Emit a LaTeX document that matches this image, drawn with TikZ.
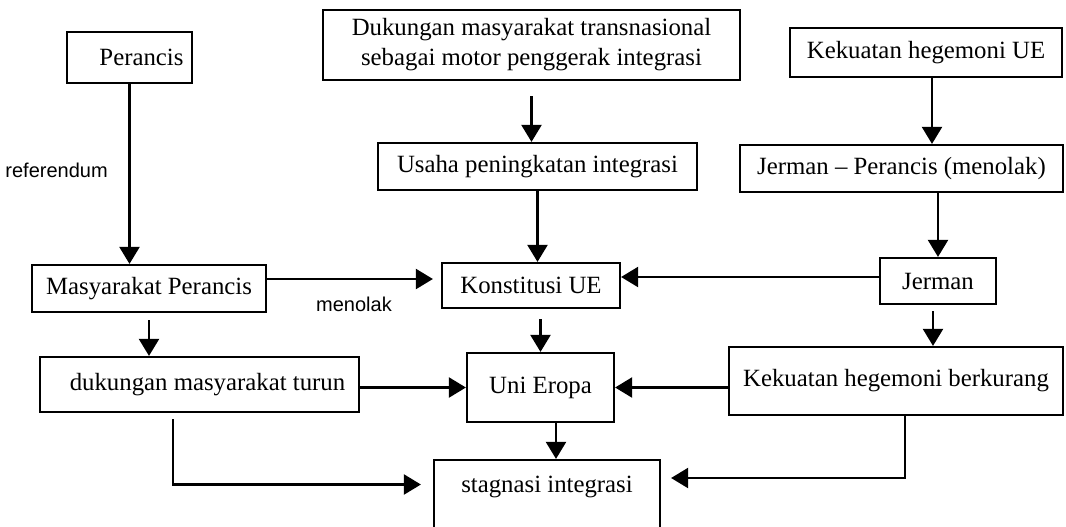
\documentclass[tikz,border=0pt]{standalone}
\usepackage{fontspec}
\setmainfont{Liberation Serif}
\newfontfamily\lsans{Liberation Sans}
\usetikzlibrary{arrows.meta}
\begin{document}
\begin{tikzpicture}[x=0.5pt,y=-0.5pt,
  box/.style={draw, line width=1.1pt, inner sep=0pt, font=\fontsize{12.4}{15}\selectfont, align=center},
  arr/.style={line width=1.1pt, -{Triangle[length=8.5pt,width=10pt]}},
  lbl/.style={font=\lsans\fontsize{10}{12}\selectfont}]
\useasboundingbox (0,0) rectangle (1066,526);
\clip (0,0) rectangle (1066,526);
% boxes
\node[box, minimum width=62.5pt, minimum height=25.5pt] (per) at (129.5,57.5) {\hspace*{12pt}Perancis};
\node[box, minimum width=208.5pt, minimum height=35pt] (dk) at (531.5,45) {Dukungan masyarakat transnasional\\sebagai motor penggerak integrasi};
\node[box, minimum width=136pt, minimum height=24.5pt] (keu) at (926,52.5) {Kekuatan hegemoni UE};
\node[box, minimum width=159.5pt, minimum height=23.5pt] (usaha) at (537.5,166.5) {Usaha peningkatan integrasi};
\node[box, minimum width=161.5pt, minimum height=23.5pt] (jp) at (901.5,168.5) {Jerman -- Perancis (menolak)};
\node[box, minimum width=117pt, minimum height=23.5pt] (mp) at (149,288.5) {Masyarakat Perancis};
\node[box, minimum width=89pt, minimum height=22.5pt] (kon) at (531,285.5) {Konstitusi UE};
\node[box, minimum width=58pt, minimum height=23pt] (jer) at (938,281) {Jerman};
\node[box, minimum width=159.5pt, minimum height=27.5pt] (dmt) at (199.5,384.5) {\hspace*{8pt}dukungan masyarakat turun};
\node[box, minimum width=73.5pt, minimum height=34.5pt] (ue) at (540.5,387.5) {Uni Eropa};
\node[box, minimum width=167pt, minimum height=34pt] (kb) at (896,381) {Kekuatan hegemoni berkurang};
\node[box, minimum width=113pt, minimum height=42.5pt, text depth=18pt] (st) at (547,502.5) {stagnasi integrasi};
% connectors
\draw[arr] (per.south) -- node[lbl, pos=0.48, left=7pt] {referendum} (per.south |- mp.north);
\draw[arr, shorten <=7.5pt] (dk.south) -- (dk.south |- usaha.north);
\draw[arr] (usaha.south) -- (usaha.south |- kon.north);
\draw[arr] ([xshift=3pt]keu.south) -- ([xshift=3pt]keu.south |- jp.north);
\draw[arr] (jer.north |- jp.south) -- (jer.north);
\draw[arr] ([yshift=2pt]jer.west) -- ([yshift=2pt]jer.west -| kon.east);
\draw[arr, shorten >=4pt] ([yshift=4.75pt]mp.east) -- node[lbl, midway, below=5pt] {menolak} ([yshift=4.75pt]mp.east -| kon.west);
\draw[arr, shorten <=5pt] (ue.north |- kon.south) -- (ue.north);
\draw[arr, shorten <=3.5pt] (mp.south) -- (mp.south |- dmt.north);
\draw[arr] (dmt.east |- ue.west) -- (ue.west);
\draw[arr] (kb.west |- ue.east) -- (ue.east);
\draw[arr, shorten <=3pt] ([xshift=-2.5pt]jer.south) -- ([xshift=-2.5pt]jer.south |- kb.north);
\draw[arr] ([xshift=7.75pt]ue.south) -- ([xshift=7.75pt]ue.south |- st.north);
\draw[arr, shorten <=3pt, shorten >=6pt] ([xshift=-13.25pt]dmt.south) |- ([yshift=9pt]st.west);
\draw[arr, shorten >=5pt] ([xshift=4.5pt]kb.south) |- ([yshift=12.25pt]st.east);
\end{tikzpicture}
\end{document}
